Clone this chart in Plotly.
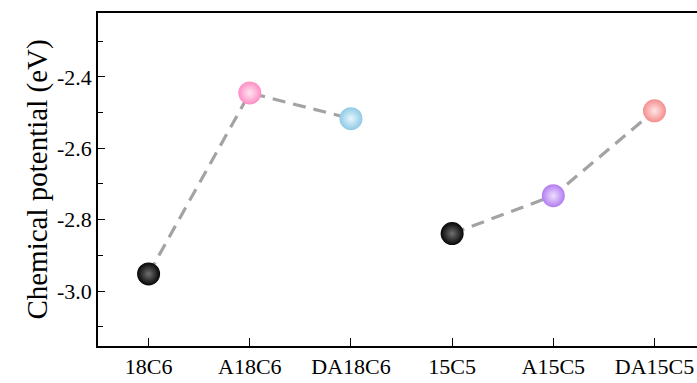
import plotly.graph_objects as go

categories = ["18C6", "A18C6", "DA18C6", "15C5", "A15C5", "DA15C5"]
values = [-2.952, -2.445, -2.517, -2.839, -2.733, -2.495]
colors = ["#050505", "#FF8DC4", "#8ECAE6", "#050505", "#B27CF2", "#F58E8E"]
highlights = ["#707070", "#FFE6F2", "#E8F5FC", "#707070", "#EEDFFD", "#FFE6E6"]
groups = [[0, 1, 2], [3, 4, 5]]
yticks = [-3.0, -2.8, -2.6, -2.4]

fig = go.Figure()
for g in groups:
    fig.add_trace(go.Scatter(
        x=[categories[i] for i in g], y=[values[i] for i in g],
        mode="lines", line=dict(color="#A3A3A3", width=3.2, dash="13px,8px"),
        showlegend=False, hoverinfo="skip"))
fig.add_trace(go.Scatter(
    x=categories, y=values, mode="markers",
    marker=dict(size=23, color=colors, line=dict(width=0),
                gradient=dict(type="radial", color=highlights)),
    showlegend=False))

ff = "Liberation Serif, Times New Roman, serif"
tf = dict(family=ff, size=22, color="black")
fig.update_layout(
    width=697, height=383,
    margin=dict(l=98, r=0, t=13, b=37),
    plot_bgcolor="white", paper_bgcolor="white",
    font=dict(family=ff, color="black", size=22),
    xaxis=dict(type="category", categoryorder="array", categoryarray=categories,
               range=[-0.5, 5.42], showline=True, linecolor="black", linewidth=1.5,
               ticks="inside", ticklen=8, tickwidth=1.3, tickcolor="black",
               showgrid=False, zeroline=False, tickfont=tf),
    xaxis2=dict(overlaying="x", side="top", range=[-0.5, 5.42], showline=True,
                linecolor="black", linewidth=1.5, showticklabels=False, ticks="",
                showgrid=False, zeroline=False),
    yaxis=dict(range=[-3.154, -2.221], tickvals=yticks,
               ticktext=[f"{v:.1f}" for v in yticks],
               showline=True, linecolor="black", linewidth=1.5,
               ticks="inside", ticklen=7, tickwidth=1.3, tickcolor="black",
               minor=dict(tickvals=[-3.1, -2.9, -2.7, -2.5, -2.3], ticks="inside",
                          ticklen=5, tickwidth=1.3, tickcolor="black"),
               showgrid=False, zeroline=False, tickfont=tf,
               title=dict(text="Chemical potential (eV)",
                          font=dict(family=ff, size=29, color="black"), standoff=1)),
)
fig.add_trace(go.Scatter(x=[None], y=[None], xaxis="x2", showlegend=False, hoverinfo="skip"))
fig.write_html("out.html")
